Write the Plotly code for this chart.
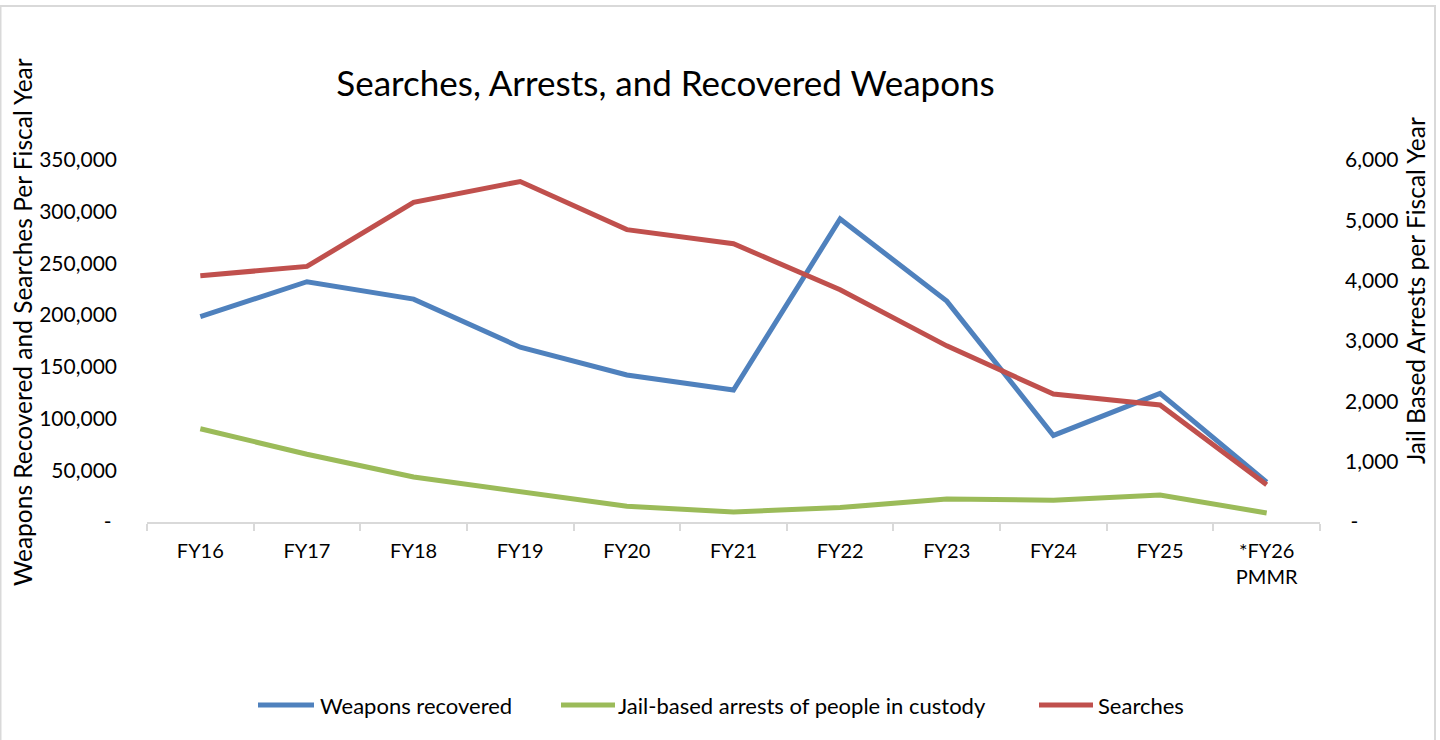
import plotly.graph_objects as go

# Fiscal-year categories
fiscal_years = ["FY16", "FY17", "FY18", "FY19", "FY20", "FY21",
                "FY22", "FY23", "FY24", "FY25", "*FY26<br>PMMR"]

# Series on the left axis
weapons_recovered = [198600, 232300, 215500, 169000, 142200, 127600,
                     293000, 213600, 83700, 124400, 38500]
searches = [238100, 247100, 309100, 329200, 282700, 269100,
            224500, 170300, 123700, 113100, 35900]

# Series on the right axis
jail_arrests = [1545, 1124, 747, 498, 261, 166, 239, 382, 360, 448, 150]

# Axis ticks
left_ticks = [0, 50000, 100000, 150000, 200000, 250000, 300000, 350000]
left_ticktext = ["-\u00a0"] + [f"{v:,}" for v in left_ticks[1:]]
right_ticks = [0, 1000, 2000, 3000, 4000, 5000, 6000]
right_ticktext = ["\u00a0-"] + [f"{v:,}" for v in right_ticks[1:]]

BLUE = "#4F81BD"
GREEN = "#9BBB59"
RED = "#C0504D"
FONT = "Lato"
TXT = "#000000"

# Plot area in pixels (figure is 1440 x 740)
L, R, T, B = 147, 1320, 160, 522
W, H = R - L, B - T


def px(x):
    return (x - L) / W


def py(y):
    return (B - y) / H


fig = go.Figure()
fig.add_trace(go.Scatter(x=fiscal_years, y=weapons_recovered, mode="lines",
                         name="Weapons recovered",
                         line=dict(color=BLUE, width=5)))
fig.add_trace(go.Scatter(x=fiscal_years, y=jail_arrests, mode="lines",
                         name="Jail-based arrests of people in custody",
                         line=dict(color=GREEN, width=5), yaxis="y2"))
fig.add_trace(go.Scatter(x=fiscal_years, y=searches, mode="lines",
                         name="Searches",
                         line=dict(color=RED, width=5)))

# Legend drawn as line samples plus labels along the bottom
legend_items = [
    ("Weapons recovered", BLUE, 258, 314, 318),
    ("Jail-based arrests of people in custody", GREEN, 561, 615, 616),
    ("Searches", RED, 1039, 1093, 1096),
]
shapes = []
annotations = []
for label, color, x0, x1, tx in legend_items:
    shapes.append(dict(type="line", xref="paper", yref="paper",
                       x0=px(x0), x1=px(x1), y0=py(705), y1=py(705),
                       line=dict(color=color, width=5)))
    annotations.append(dict(text=label, xref="paper", yref="paper",
                            x=px(tx), y=py(705), xanchor="left", yanchor="middle",
                            showarrow=False, font=dict(family=FONT, size=22, color=TXT)))

# Chart border
shapes.append(dict(type="rect", xref="paper", yref="paper", layer="below",
                   x0=px(0.5), x1=px(1435), y0=py(6), y1=py(746),
                   line=dict(color="#d9d9d9", width=2), fillcolor="rgba(0,0,0,0)"))

# Axis titles
annotations.append(dict(text="Weapons Recovered and Searches Per Fiscal Year",
                        xref="paper", yref="paper", x=px(22), y=py(322),
                        xanchor="center", yanchor="middle", textangle=-90,
                        showarrow=False, font=dict(family=FONT, size=24.5, color=TXT)))
annotations.append(dict(text="Jail Based Arrests per Fiscal Year",
                        xref="paper", yref="paper", x=px(1415), y=py(291),
                        xanchor="center", yanchor="middle", textangle=-90,
                        showarrow=False, font=dict(family=FONT, size=24.5, color=TXT)))

fig.update_layout(
    width=1440, height=740,
    margin=dict(l=L, r=1440 - R, t=T, b=740 - B),
    paper_bgcolor="white", plot_bgcolor="white",
    showlegend=False,
    title=dict(text="Searches, Arrests, and Recovered Weapons",
               x=665.5 / 1440, y=1 - 84 / 740, xanchor="center", yanchor="middle",
               font=dict(family=FONT, size=35, color=TXT)),
    xaxis=dict(type="category", range=[-0.5, 10.5],
               showline=True, linecolor="#d9d9d9", linewidth=2,
               ticks="outside", tickson="boundaries", ticklen=7,
               tickcolor="#d9d9d9", tickwidth=2, showgrid=False,
               ticklabelstandoff=10,
               tickfont=dict(family=FONT, size=20, color=TXT)),
    yaxis=dict(range=[0, 350000], tickvals=left_ticks, ticktext=left_ticktext,
               showgrid=False, zeroline=False, showline=False, ticks="",
               ticklabelstandoff=29,
               tickfont=dict(family=FONT, size=21, color=TXT)),
    yaxis2=dict(range=[0, 6000], tickvals=right_ticks, ticktext=right_ticktext,
                overlaying="y", side="right",
                showgrid=False, zeroline=False, showline=False, ticks="",
                ticklabelstandoff=24,
                tickfont=dict(family=FONT, size=21, color=TXT)),
    shapes=shapes,
    annotations=annotations,
)

fig.write_html("out.html")
